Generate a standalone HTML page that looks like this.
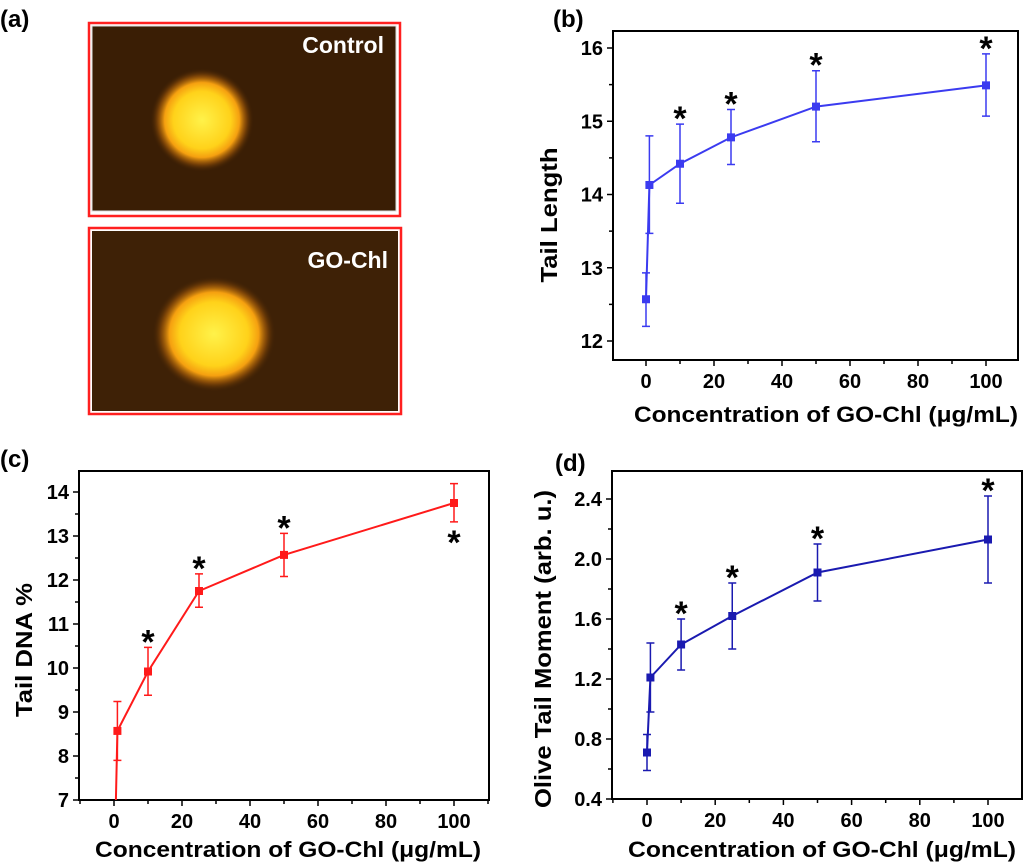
<!DOCTYPE html>
<html><head><meta charset="utf-8"><style>
html,body{margin:0;padding:0;background:#fff;}
body{width:1024px;height:865px;overflow:hidden;position:relative;font-family:"Liberation Sans",Arial,sans-serif;}
svg{position:absolute;left:0;top:0;}
</style></head><body>
<svg id="fig" width="1024" height="865" viewBox="0 0 1024 865">
<defs>
<radialGradient id="blob1" cx="0.5" cy="0.5" r="0.5">
<stop offset="0" stop-color="#fff24a"/><stop offset="0.55" stop-color="#ffd21a"/><stop offset="0.72" stop-color="#f5a010"/><stop offset="0.85" stop-color="#9a5508" stop-opacity="0.7"/><stop offset="1" stop-color="#3a1d04" stop-opacity="0"/>
</radialGradient>
</defs>
<g>
<text x="0" y="27" font-size="24" font-weight="bold">(a)</text>
<rect x="89" y="23" width="311" height="193" fill="none" stroke="#ff2020" stroke-width="2.5"/>
<rect x="92" y="26" width="304" height="185" fill="#3a1e05" stroke="#ddd" stroke-width="1"/>
<ellipse cx="202" cy="120" rx="52" ry="52" fill="url(#blob1)"/>
<text x="384" y="53" font-size="23" font-weight="bold" fill="#fff" text-anchor="end">Control</text>
<rect x="89" y="228" width="312" height="186" fill="none" stroke="#ff2020" stroke-width="2.5"/>
<rect x="92" y="231" width="306" height="180" fill="#3e2106"/>
<ellipse cx="214" cy="334" rx="62" ry="58" fill="url(#blob1)"/>
<text x="388" y="268" font-size="23" font-weight="bold" fill="#fff" text-anchor="end">GO-Chl</text>
</g>
<text x="553" y="27" font-size="24" font-weight="bold">(b)</text>
<text x="0" y="467" font-size="24" font-weight="bold">(c)</text>
<text x="555" y="471" font-size="24" font-weight="bold">(d)</text>
</svg>
<script>
// Panel b data
const bX = [0, 1, 10, 25, 50, 100];
const bY = [12.57, 14.13, 14.42, 14.78, 15.2, 15.49];
const bHi = [12.93, 14.8, 14.96, 15.16, 15.69, 15.92];
const bLo = [12.2, 13.47, 13.88, 14.41, 14.72, 15.07];
const bStar = [false, false, true, true, true, true];
const bYTicks = [12, 13, 14, 15, 16];
// Panel c data
const cX = [0, 1, 10, 25, 50, 100];
const cY = [5.0, 8.57, 9.92, 11.75, 12.57, 13.75];
const cHi = [null, 9.24, 10.47, 12.14, 13.06, 14.19];
const cLo = [null, 7.9, 9.38, 11.38, 12.08, 13.32];
const cStar = [false, false, true, true, true, true];
const cYTicks = [7, 8, 9, 10, 11, 12, 13, 14];
// Panel d data
const dX = [0, 1, 10, 25, 50, 100];
const dY = [0.71, 1.21, 1.43, 1.62, 1.91, 2.13];
const dHi = [0.83, 1.44, 1.60, 1.84, 2.10, 2.42];
const dLo = [0.59, 0.98, 1.26, 1.40, 1.72, 1.84];
const dStar = [false, false, true, true, true, true];
const dYTicks = ['0.4', '0.8', '1.2', '1.6', '2.0', '2.4'];
const xTicks = [0, 20, 40, 60, 80, 100];

const NS = 'http://www.w3.org/2000/svg';
const fig = document.getElementById('fig');
function mk(tag, attrs, parent) {
  const e = document.createElementNS(NS, tag);
  for (const k in attrs) e.setAttribute(k, attrs[k]);
  parent.appendChild(e);
  return e;
}

function panel(id, box, xr, yr, X, Y, Hi, Lo, Star, yTicks, yMinor, color, ytitle, starBelowLast) {
  const g = mk('g', {}, fig);
  
  
  const sx = v => box.x0px + (v - 0) * (box.x100px - box.x0px) / 100;
  const sy = v => box.yA + (v - yr[0]) * (box.yB - box.yA) / (yr[1] - yr[0]);
  const frame = mk('rect', {x: box.l, y: box.t, width: box.r - box.l, height: box.b - box.t, fill: 'none', stroke: '#000', 'stroke-width': 2}, g);
  
  
  for (let v = -10; v <= 110; v += 10) {
    const x = sx(v);
    if (x < box.l || x > box.r) continue;
    const major = v % 20 === 0;
    mk('line', {x1: x, y1: box.b, x2: x, y2: box.b + (major ? 6 : 4), stroke: '#000', 'stroke-width': 1.5}, g);
  }
  xTicks.forEach(v => {
    const t = mk('text', {x: sx(v), y: box.b + 28, 'font-size': 20, 'font-weight': 'bold', 'text-anchor': 'middle'}, g);
    t.textContent = v;
    
    
  });
  yTicks.forEach((lab) => {
    const v = parseFloat(lab);
    const y = sy(v);
    mk('line', {x1: box.l - 6, y1: y, x2: box.l, y2: y, stroke: '#000', 'stroke-width': 1.5}, g);
    const t = mk('text', {x: box.l - 10, y: y + 7, 'font-size': 20, 'font-weight': 'bold', 'text-anchor': 'end'}, g);
    t.textContent = lab;
    
    
    const ym = sy(v + yMinor);
    if (ym > box.t) mk('line', {x1: box.l - 4, y1: ym, x2: box.l, y2: ym, stroke: '#000', 'stroke-width': 1.5}, g);
  });
  const xt = mk('text', {x: box.xtx0, y: box.b + box.xty, 'font-size': 22, 'font-weight': 'bold', textLength: box.xtl, lengthAdjust: 'spacingAndGlyphs'}, g);
  xt.textContent = 'Concentration of GO-Chl (\u03bcg/mL)';
  
  
  const yt = mk('text', {x: -box.ytl / 2, y: 0, 'font-size': 23, 'font-weight': 'bold', textLength: box.ytl, lengthAdjust: 'spacingAndGlyphs', transform: 'translate(' + box.ytx + ',' + box.ytc + ') rotate(-90)'}, g);
  yt.textContent = ytitle;
  
  
  const cp = mk('clipPath', {id: 'clip-' + id}, g);
  mk('rect', {x: box.l, y: box.t, width: box.r - box.l, height: box.b - box.t}, cp);
  const dg = mk('g', {'clip-path': 'url(#clip-' + id + ')'}, g);
  const pts = X.map((x, i) => sx(x) + ',' + sy(Y[i])).join(' ');
  const line = mk('polyline', {points: pts, fill: 'none', stroke: color, 'stroke-width': 2}, dg);
  
  
  X.forEach((x, i) => {
    const px = sx(x);
    if (Hi[i] !== null) {
      const eb = mk('path', {d: 'M' + px + ',' + sy(Hi[i]) + 'V' + sy(Lo[i]) + 'M' + (px - 4) + ',' + sy(Hi[i]) + 'h8M' + (px - 4) + ',' + sy(Lo[i]) + 'h8', stroke: color, 'stroke-width': 1.5, fill: 'none'}, dg);
      
      
    }
    const m = mk('rect', {x: px - 4, y: sy(Y[i]) - 4, width: 8, height: 8, fill: color}, dg);
    
    
    if (Star[i]) {
      const below = starBelowLast && i === X.length - 1;
      const sy0 = below ? sy(Lo[i]) + 32 : sy(Hi[i]) + 6;
      const s = mk('text', {x: px, y: sy0, 'font-size': 34, 'font-weight': 'bold', 'text-anchor': 'middle'}, g);
      s.textContent = '*';
      
      
    }
  });
}

panel('b', {l: 613, t: 31, r: 1018, b: 360, x0px: 646, x100px: 986, yA: 341, yB: 48, ytx: 557, ytc: 215, ytl: 135, xtx0: 634, xtl: 384, xty: 62},
  [0, 100], [12, 16], bX, bY, bHi, bLo, bStar, bYTicks.map(String), 0.5, '#3b3bf0', 'Tail Length', false);
panel('c', {l: 79, t: 471, r: 489, b: 800, x0px: 114, x100px: 454, yA: 800, yB: 492, ytx: 32, ytc: 650, ytl: 134, xtx0: 95, xtl: 386, xty: 57},
  [0, 100], [7, 14], cX, cY, cHi, cLo, cStar, cYTicks.map(String), 0.5, '#ff1a1a', 'Tail DNA %', true);
panel('d', {l: 612, t: 471, r: 1022, b: 799, x0px: 647, x100px: 988, yA: 799, yB: 499, ytx: 551, ytc: 649, ytl: 318, xtx0: 628, xtl: 388, xty: 58},
  [0, 100], [0.4, 2.4], dX, dY, dHi, dLo, dStar, dYTicks, 0.2, '#1a1ab0', 'Olive Tail Moment (arb. u.)', false);
</script>
</body></html>
